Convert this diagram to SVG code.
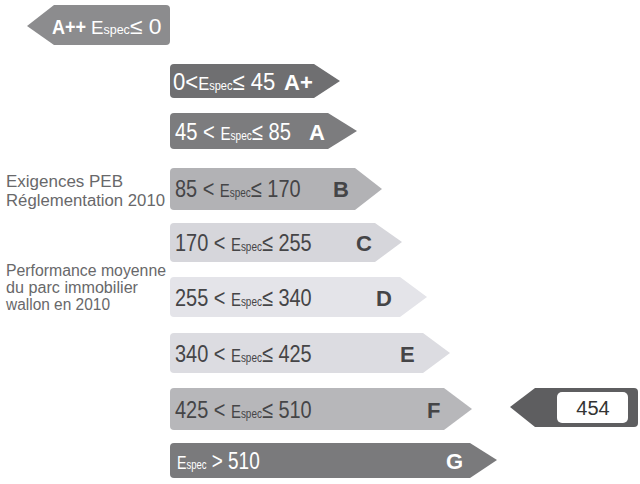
<svg xmlns="http://www.w3.org/2000/svg" width="640" height="484" viewBox="0 0 640 484">
<style>
.r{font-family:"Liberation Sans",Arial,sans-serif;font-size:24px}
.s{font-size:12px}
.e{font-size:18px}
.L{font-family:"Liberation Sans",Arial,sans-serif;font-size:22px;font-weight:bold}
.w{fill:#ffffff}
.d{fill:#454547}
.side{font-family:"Liberation Sans",Arial,sans-serif;font-size:16px;fill:#68686a}
</style>
<rect width="640" height="484" fill="#ffffff"/>
<g id="Ap2">
<path d="M27 26 L54 5 L166 5 Q170 5 170 9 L170 41 Q170 45 166 45 L54 45 Z" fill="#8c8c8e"/>
<text class="L w" transform="translate(52,34) scale(0.86,1)" style="font-size:21px">A++</text>
<text class="r w" transform="translate(91,34) scale(1.04,1)" style="font-size:22px"><tspan class="e">E</tspan><tspan class="s">spec</tspan>≤ 0</text>
</g>
<g id="Ap">
<path d="M174 64 L314 64 L340 81 L314 98 L174 98 Q170 98 170 94 L170 68 Q170 64 174 64 Z" fill="#6f6f71"/>
<text class="r w" transform="translate(173,90) scale(0.92,1)">0&lt;<tspan class="e">E</tspan><tspan class="s">spec</tspan>≤ 45</text>
<text class="L w" x="284" y="90">A+</text>
</g>
<g id="A">
<path d="M174 113 L328 113 L357 131 L328 149 L174 149 Q170 149 170 145 L170 117 Q170 113 174 113 Z" fill="#7c7c7e"/>
<text class="r w" transform="translate(175,140) scale(0.84,1)">45 &lt; <tspan class="e">E</tspan><tspan class="s">spec</tspan>≤ 85</text>
<text class="L w" x="309" y="140">A</text>
</g>
<g id="B">
<path d="M174 168 L355 168 L382 189 L355 210 L174 210 Q170 210 170 206 L170 172 Q170 168 174 168 Z" fill="#b2b2b5"/>
<text class="r d" transform="translate(175,197) scale(0.83,1)">85 &lt; <tspan class="e">E</tspan><tspan class="s">spec</tspan>≤ 170</text>
<text class="L d" x="333" y="197">B</text>
</g>
<g id="C">
<path d="M174 223 L375 223 L402 242 L375 262 L174 262 Q170 262 170 258 L170 227 Q170 223 174 223 Z" fill="#d6d6db"/>
<text class="r d" transform="translate(175,251) scale(0.83,1)">170 &lt; <tspan class="e">E</tspan><tspan class="s">spec</tspan>≤ 255</text>
<text class="L d" x="356" y="251">C</text>
</g>
<g id="D">
<path d="M174 277 L400 277 L427 297 L400 317 L174 317 Q170 317 170 313 L170 281 Q170 277 174 277 Z" fill="#e4e4e9"/>
<text class="r d" transform="translate(175,306) scale(0.83,1)">255 &lt; <tspan class="e">E</tspan><tspan class="s">spec</tspan>≤ 340</text>
<text class="L d" x="376" y="306">D</text>
</g>
<g id="E">
<path d="M174 333 L423 333 L450 353 L423 373 L174 373 Q170 373 170 369 L170 337 Q170 333 174 333 Z" fill="#dcdce1"/>
<text class="r d" transform="translate(175,362) scale(0.83,1)">340 &lt; <tspan class="e">E</tspan><tspan class="s">spec</tspan>≤ 425</text>
<text class="L d" x="400" y="362">E</text>
</g>
<g id="F">
<path d="M174 388 L444 388 L472 409 L444 430 L174 430 Q170 430 170 426 L170 392 Q170 388 174 388 Z" fill="#b7b7ba"/>
<text class="r d" transform="translate(175,418) scale(0.83,1)">425 &lt; <tspan class="e">E</tspan><tspan class="s">spec</tspan>≤ 510</text>
<text class="L d" x="427" y="418">F</text>
</g>
<g id="G">
<path d="M174 443 L470 443 L497 460 L470 478 L174 478 Q170 478 170 474 L170 447 Q170 443 174 443 Z" fill="#7a7a7c"/>
<text class="r w" transform="translate(177,469) scale(0.79,1)"><tspan class="e">E</tspan><tspan class="s">spec</tspan> &gt; 510</text>
<text class="L w" x="446" y="469">G</text>
</g>
<g id="labels">
<text class="side" x="6" y="187" textLength="117" lengthAdjust="spacingAndGlyphs">Exigences PEB</text>
<text class="side" x="6" y="206" textLength="159" lengthAdjust="spacingAndGlyphs">Réglementation 2010</text>
<text class="side" x="6" y="276" textLength="160" lengthAdjust="spacingAndGlyphs">Performance moyenne</text>
<text class="side" x="6" y="293" textLength="132" lengthAdjust="spacingAndGlyphs">du parc immobilier</text>
<text class="side" x="6" y="310" textLength="104" lengthAdjust="spacingAndGlyphs">wallon en 2010</text>
</g>
<g id="marker454">
<path d="M510 407 L535 388 L634 388 Q638 388 638 392 L638 423 Q638 427 634 427 L535 427 Z" fill="#5e5e60"/>
<rect x="557" y="392" width="71" height="31" rx="5" fill="#ffffff"/>
<text x="593" y="415" text-anchor="middle" font-family="Liberation Sans,Arial,sans-serif" font-size="20" fill="#333333">454</text>
</g>
<g id="connectors"/>
</svg>
